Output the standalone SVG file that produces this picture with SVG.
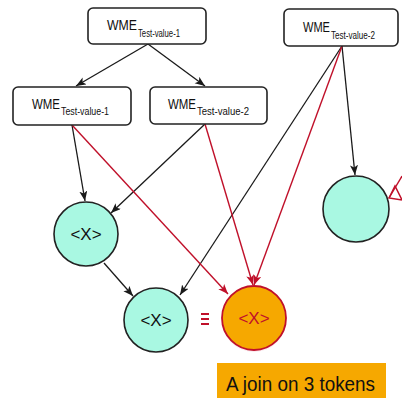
<svg xmlns="http://www.w3.org/2000/svg" width="402" height="398" viewBox="0 0 402 398">
  <style>
    .box { fill: #ffffff; stroke: #222222; stroke-width: 1.6; }
    .main { font-family: "Liberation Sans", Arial, sans-serif; font-size: 15px; fill: #111111; }
    .sub { font-family: "Liberation Sans", Arial, sans-serif; font-size: 10px; fill: #111111; }
    .alpha { fill: #a9f8e2; stroke: #222222; stroke-width: 1.6; }
    .beta { fill: #f6a800; stroke: #c0102a; stroke-width: 1.8; }
    .var { font-family: "Liberation Sans", Arial, sans-serif; font-size: 17px; text-anchor: middle; }
    .blk { stroke: #1a1a1a; stroke-width: 1.3; fill: none; }
    .red { stroke: #c0102a; stroke-width: 1.4; fill: none; }
  </style>
  <defs>
    <marker id="ab" markerUnits="userSpaceOnUse" markerWidth="12" markerHeight="10" refX="10" refY="4" orient="auto">
      <path d="M0,0 L10,4 L0,8 L2.5,4 Z" fill="#1a1a1a"/>
    </marker>
    <marker id="ar" markerUnits="userSpaceOnUse" markerWidth="12" markerHeight="10" refX="10" refY="4" orient="auto">
      <path d="M0,0 L10,4 L0,8 L2.5,4 Z" fill="#c0102a"/>
    </marker>
  </defs>

  <!-- connectors -->
  <g id="connectors">
    <line class="blk" x1="148" y1="44" x2="76" y2="86" marker-end="url(#ab)"/>
    <line class="blk" x1="148" y1="44" x2="205" y2="86" marker-end="url(#ab)"/>
    <line class="blk" x1="72" y1="125" x2="85" y2="201" marker-end="url(#ab)"/>
    <line class="blk" x1="205" y1="124" x2="111" y2="213" marker-end="url(#ab)"/>
    <line class="blk" x1="104" y1="263" x2="133" y2="296" marker-end="url(#ab)"/>
    <line class="blk" x1="342" y1="46" x2="180" y2="295" marker-end="url(#ab)"/>
    <line class="blk" x1="342" y1="46" x2="355" y2="175" marker-end="url(#ab)"/>
    <line class="red" x1="72" y1="125" x2="228" y2="294" marker-end="url(#ar)"/>
    <line class="red" x1="205" y1="124" x2="253" y2="285" marker-end="url(#ar)"/>
    <line class="red" x1="342" y1="46" x2="254" y2="285" marker-end="url(#ar)"/>
    <line class="red" x1="402" y1="176" x2="389" y2="198"/>
    <polygon points="389,198 395,186 402,200" fill="none" stroke="#c0102a" stroke-width="1.5"/>
  </g>

  <!-- working-memory elements -->
  <g id="wme-top-1">
    <rect class="box" x="88" y="8" width="118" height="36" rx="5"/>
    <text class="main" x="107" y="30" textLength="30" lengthAdjust="spacingAndGlyphs">WME</text>
    <text class="sub" x="138" y="37" textLength="42" lengthAdjust="spacingAndGlyphs">Test-value-1</text>
  </g>
  <g id="wme-top-2">
    <rect class="box" x="284" y="9" width="114" height="37" rx="5"/>
    <text class="main" x="303" y="32" textLength="27" lengthAdjust="spacingAndGlyphs">WME</text>
    <text class="sub" x="331" y="39" textLength="44" lengthAdjust="spacingAndGlyphs">Test-value-2</text>
  </g>
  <g id="wme-mid-1">
    <rect class="box" x="13" y="87" width="118" height="38" rx="5"/>
    <text class="main" x="32" y="109" textLength="28" lengthAdjust="spacingAndGlyphs">WME</text>
    <text class="sub" x="61" y="115" textLength="48" lengthAdjust="spacingAndGlyphs">Test-value-1</text>
  </g>
  <g id="wme-mid-2">
    <rect class="box" x="150" y="87" width="117" height="37" rx="5"/>
    <text class="main" x="168" y="109" textLength="28" lengthAdjust="spacingAndGlyphs">WME</text>
    <text class="sub" x="197" y="115" textLength="52" lengthAdjust="spacingAndGlyphs">Test-value-2</text>
  </g>

  <!-- variable nodes -->
  <g id="node-x1">
    <circle class="alpha" cx="86" cy="234" r="32"/>
    <text class="var" x="86" y="240" fill="#111111">&lt;X&gt;</text>
  </g>
  <g id="node-x2">
    <circle class="alpha" cx="156" cy="320" r="32"/>
    <text class="var" x="156" y="326" fill="#111111">&lt;X&gt;</text>
  </g>
  <g id="node-right">
    <circle class="alpha" cx="356" cy="209" r="33"/>
  </g>
  <g id="equiv">
    <rect x="201" y="313" width="8" height="2" fill="#c0102a"/>
    <rect x="201" y="318" width="8" height="2" fill="#c0102a"/>
    <rect x="201" y="323" width="8" height="2" fill="#c0102a"/>
  </g>
  <g id="node-join">
    <circle cx="254" cy="320" r="32" fill="#f8d6e0" opacity="0.5"/>
    <circle class="beta" cx="254" cy="318" r="32"/>
    <text class="var" x="254" y="324" fill="#c0102a">&lt;X&gt;</text>
  </g>

  <!-- caption -->
  <g id="caption">
    <rect x="217" y="363" width="169" height="35" fill="#f6a800"/>
    <text x="226" y="391" font-family="Liberation Sans, Arial, sans-serif" font-size="20" fill="#111111" textLength="149" lengthAdjust="spacingAndGlyphs">A join on 3 tokens</text>
  </g>
</svg>
